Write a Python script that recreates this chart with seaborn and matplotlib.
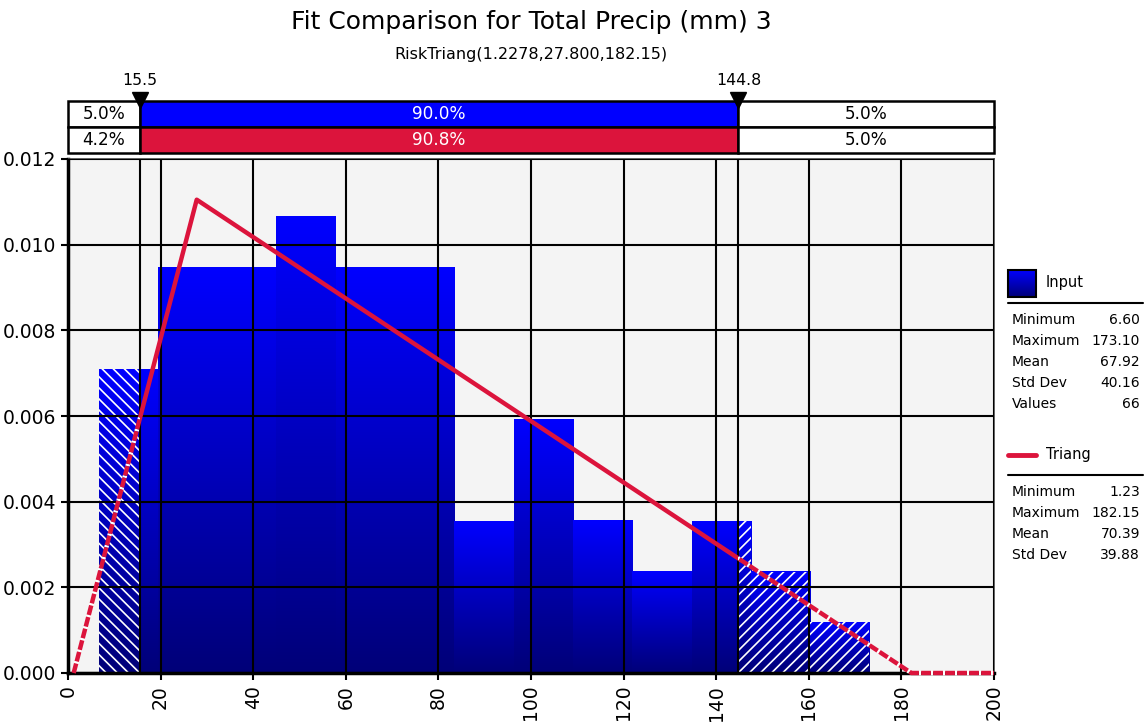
import numpy as np
import pandas as pd
import seaborn as sns
import matplotlib.pyplot as plt
from matplotlib.colors import LinearSegmentedColormap
from matplotlib.patches import Rectangle

# Input data histogram (13 bins from min to max)
bin_edges = [6.60, 19.41, 32.22, 45.03, 57.83, 70.64, 83.45, 96.26,
             109.07, 121.87, 134.68, 147.49, 160.30, 173.10]
bin_counts = [6, 8, 8, 9, 8, 8, 3, 5, 3, 2, 3, 2, 1]

# Fitted triangular pdf (corner points)
tri_x = [1.2278, 27.8, 182.15, 200.0]
tri_y = [0.0, 0.01105, 0.0, 0.0]

# 5% / 95% markers and the percentages in the top bar
p_lo, p_hi = 15.5, 144.8
input_pcts = ['5.0%', '90.0%', '5.0%']
fit_pcts = ['4.2%', '90.8%', '5.0%']

# Stats panel
in_names = ['Minimum', 'Maximum', 'Mean', 'Std Dev', 'Values']
in_vals = ['6.60', '173.10', '67.92', '40.16', '66']
fit_names = ['Minimum', 'Maximum', 'Mean', 'Std Dev']
fit_vals = ['1.23', '182.15', '70.39', '39.88']

RED = '#DC143C'
W, H = 1146, 722

sns.set_theme(style='ticks')
plt.rcParams['font.family'] = ['DejaVu Sans']
plt.rcParams['text.color'] = 'black'
plt.rcParams['hatch.linewidth'] = 1.2

fig = plt.figure(figsize=(W / 100, H / 100), dpi=100)
L, R, B, T = 68, 994, 673, 159
ax = fig.add_axes([L / W, 1 - B / H, (R - L) / W, (B - T) / H])
ax.set_facecolor('#F4F4F4')

# histogram through seaborn
centers = [(a + b) / 2 for a, b in zip(bin_edges[:-1], bin_edges[1:])]
hist_df = pd.DataFrame({'x': centers, 'n': bin_counts})
sns.histplot(data=hist_df, x='x', weights='n', bins=bin_edges, stat='density',
             ax=ax, color='blue', alpha=1, linewidth=0, edgecolor='none')

# vertical gradient on each bar
cmap = LinearSegmentedColormap.from_list('bars', ['#000078', '#0000FF'])
grad = np.linspace(0, 1, 256).reshape(-1, 1)
bars = list(ax.patches)
for p in bars:
    x0, w, h = p.get_x(), p.get_width(), p.get_height()
    ax.imshow(grad, cmap=cmap, origin='lower', aspect='auto',
              extent=[x0, x0 + w, 0, h], zorder=1)
    p.set_visible(False)
    x1 = x0 + w
    # hatch the tails outside the 5%-95% range
    if x0 < p_lo:
        ax.bar(x0, h, width=min(x1, p_lo) - x0, align='edge', color='none',
               edgecolor='white', hatch='\\\\\\', linewidth=0, zorder=2)
    if x1 > p_hi:
        left = max(x0, p_hi)
        ax.bar(left, h, width=x1 - left, align='edge', color='none',
               edgecolor='white', hatch='///', linewidth=0, zorder=2)

# fitted curve: solid in the middle, dashed in the tails
sns.lineplot(x=tri_x, y=tri_y, ax=ax, color=RED, linewidth=3.2, zorder=6)
solid = ax.lines[-1]
solid.set_clip_path(Rectangle((p_lo, -1), p_hi - p_lo, 2, transform=ax.transData))
for x0, x1 in [(-10, p_lo), (p_hi, 300)]:
    dl, = ax.plot(tri_x, tri_y, color=RED, linewidth=3.2, zorder=6,
                  linestyle=(0, (2.2, 0.5)), gapcolor='white')
    dl.set_clip_path(Rectangle((x0, -1), x1 - x0, 2, transform=ax.transData))

ax.axvline(p_lo, color='black', lw=1.5, zorder=5)
ax.axvline(p_hi, color='black', lw=1.5, zorder=5)

ax.set_xlim(0, 200)
ax.set_ylim(0, 0.012)
ax.set_xticks(np.arange(0, 201, 20))
ax.set_yticks(np.arange(0, 0.0121, 0.002))
ax.yaxis.set_major_formatter(plt.FormatStrFormatter('%.3f'))
ax.set_xlabel('')
ax.set_ylabel('')
ax.grid(True, color='black', lw=1.5)
ax.set_axisbelow(False)
ax.tick_params(axis='both', direction='out', length=5, width=1.5,
               color='black', labelsize=13.5, labelcolor='black')
ax.tick_params(axis='x', labelrotation=90)
for s in ['left', 'bottom']:
    ax.spines[s].set_color('black')
    ax.spines[s].set_linewidth(2.5)
for s in ['top', 'right']:
    ax.spines[s].set_color('#444444')
    ax.spines[s].set_linewidth(1.2)

# top percentile bar
ax_top = fig.add_axes([L / W, 1 - 153 / H, (R - L) / W, 52 / H])
ax_top.set_xlim(0, 200)
ax_top.set_ylim(0, 2)
ax_top.axis('off')
seg = [0, p_lo, p_hi, 200]
for row, pcts, mid in [(1, input_pcts, 'blue'), (0, fit_pcts, RED)]:
    for i in range(3):
        ax_top.barh(row, seg[i + 1] - seg[i], left=seg[i], height=1, align='edge',
                    color=mid if i == 1 else 'white', edgecolor='black',
                    linewidth=1.8, clip_on=False)
        ax_top.text((seg[i] + seg[i + 1]) / 2, row + 0.5, pcts[i], ha='center',
                    va='center', fontsize=12.2,
                    color='white' if i == 1 else 'black')
ax_top.plot([p_lo, p_hi], [2.05, 2.05], marker='v', ms=11, color='black',
            ls='none', clip_on=False)
for v in [p_lo, p_hi]:
    ax_top.text(v, 2.8, f'{v:.1f}', ha='center', va='center', fontsize=11.3)

# titles
cx = (L + R) / 2 / W
fig.text(cx, 1 - 22 / H, 'Fit Comparison for Total Precip (mm) 3',
         ha='center', va='center', fontsize=18)
fig.text(cx, 1 - 54 / H, 'RiskTriang(1.2278,27.800,182.15)',
         ha='center', va='center', fontsize=11.5)

# stats legend on the right (pixel coordinates)
lg = fig.add_axes([0, 0, 1, 1])
lg.set_xlim(0, W)
lg.set_ylim(H, 0)
lg.axis('off')
lg.imshow(grad, cmap=cmap, origin='lower', aspect='auto',
          extent=[1008, 1036, 297, 270])
lg.add_patch(Rectangle((1008, 270), 28, 27, fill=False, edgecolor='black', lw=1.5))
lg.text(1046, 283, 'Input', va='center', fontsize=10.5)
lg.plot([1008, 1143], [303, 303], color='black', lw=1.5)
for k, (n, v) in enumerate(zip(in_names, in_vals)):
    y = 320 + 21 * k
    lg.text(1012, y, n, va='center', fontsize=10)
    lg.text(1140, y, v, va='center', ha='right', fontsize=10)
lg.plot([1008, 1036], [455, 455], color=RED, lw=3.5)
lg.text(1046, 455, 'Triang', va='center', fontsize=10.5)
lg.plot([1008, 1143], [475, 475], color='black', lw=1.5)
for k, (n, v) in enumerate(zip(fit_names, fit_vals)):
    y = 492 + 21 * k
    lg.text(1012, y, n, va='center', fontsize=10)
    lg.text(1140, y, v, va='center', ha='right', fontsize=10)
lg.set_xlim(0, W)
lg.set_ylim(H, 0)

fig.savefig('out.png', dpi=100)
